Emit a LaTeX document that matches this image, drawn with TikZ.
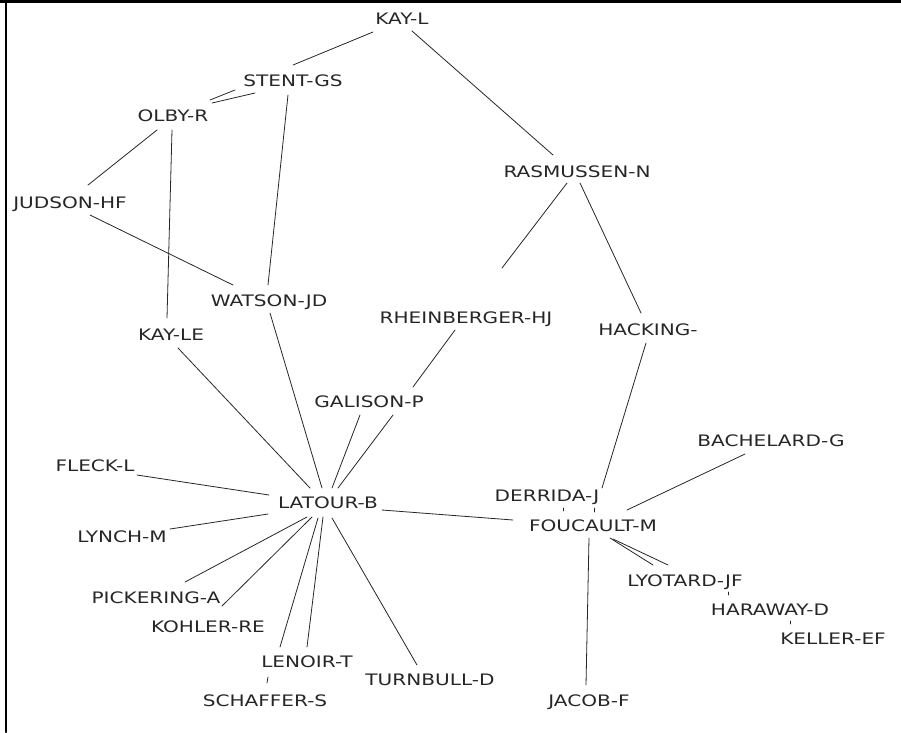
\documentclass[tikz,border=0pt]{standalone}
\usepackage{fontspec}
\setmainfont{DejaVu Sans}[FakeStretch=1.27]
\tikzset{author/.style={text=black!85,font=\fontsize{15.8}{18}\selectfont,
    inner sep=0pt,text height=11.5pt,text depth=0pt},
  tie/.style={line width=0.8pt,black!85}}

\begin{document}
\begin{tikzpicture}[x=1pt,y=-1pt,line cap=round]
  \useasboundingbox (0,0) rectangle (901,732);

  \draw [line width=3pt] (0,1.5) -- (901,1.5);
  \draw [line width=2.4pt] (6.2,0) -- (6.2,732);

  \node[author] (kayl) at (402,19) {KAY-L};
  \node[author] (stent) at (293,81) {STENT-GS};
  \node[author] (olby) at (173,116) {OLBY-R};
  \node[author] (judson) at (70,203) {JUDSON-HF};
  \node[author] (rasmussen) at (577,172) {RASMUSSEN-N};
  \node[author] (watson) at (269,301) {WATSON-JD};
  \node[author] (kayle) at (171,335) {KAY-LE};
  \node[author] (rhein) at (466,318) {RHEINBERGER-HJ};
  \node[author] (hacking) at (648,330) {HACKING-};
  \node[author] (galison) at (369,402) {GALISON-P};
  \node[author] (bachelard) at (771,441) {BACHELARD-G};
  \node[author] (fleck) at (95,466) {FLECK-L};
  \node[author] (latour) at (328,503) {LATOUR-B};
  \node[author] (derrida) at (547,496) {DERRIDA-J};
  \node[author] (foucault) at (593,526) {FOUCAULT-M};
  \node[author] (lynch) at (122,537) {LYNCH-M};
  \node[author] (lyotard) at (685,581) {LYOTARD-JF};
  \node[author] (pickering) at (156,598) {PICKERING-A};
  \node[author] (haraway) at (770,610) {HARAWAY-D};
  \node[author] (kohler) at (208,627) {KOHLER-RE};
  \node[author] (keller) at (833,639) {KELLER-EF};
  \node[author] (lenoir) at (307,662) {LENOIR-T};
  \node[author] (turnbull) at (430,680) {TURNBULL-D};
  \node[author] (schaffer) at (265,701) {SCHAFFER-S};
  \node[author] (jacob) at (589,701) {JACOB-F};

  % upper part
  \draw [tie] ([shift={(-29,13)}]kayl.center) -- ([shift={(0,-16)}]stent.center);
  \draw [tie] ([shift={(10,12)}]kayl.center) -- ([shift={(-24,-17)}]rasmussen.center);
  \draw [tie] ([shift={(39,-13)}]olby.center) -- ([shift={(-38,12)}]stent.center);
  \draw [tie] ([shift={(37,-16)}]olby.center) -- ([shift={(-58,9)}]stent.center);
  \draw [tie] ([shift={(-16,14)}]olby.center) -- ([shift={(18,-18)}]judson.center);
  \draw [tie] ([shift={(-1,14)}]olby.center) -- ([shift={(-4,-17)}]kayle.center);
  \draw [tie] ([shift={(-5,14)}]stent.center) -- ([shift={(-1,-16)}]watson.center);
  \draw [tie] ([shift={(20,12)}]judson.center) -- ([shift={(-36,-16)}]watson.center);
  \draw [tie] ([shift={(-10,11)}]rasmussen.center) -- ([shift={(36,-50)}]rhein.center);
  \draw [tie] ([shift={(3,11)}]rasmussen.center) -- ([shift={(-7,-17)}]hacking.center);
  \draw [tie] ([shift={(-11,12)}]rhein.center) -- ([shift={(44,-15)}]galison.center);
  \draw [tie] ([shift={(-2,13)}]hacking.center) -- ([shift={(55,-8)}]derrida.center);

  % round LATOUR-B
  \draw [tie] ([shift={(-9,13)}]galison.center) -- ([shift={(4,-15)}]latour.center);
  \draw [tie] ([shift={(24,13)}]galison.center) -- ([shift={(10,-15)}]latour.center);
  \draw [tie] ([shift={(1,12)}]watson.center) -- ([shift={(-6,-15)}]latour.center);
  \draw [tie] ([shift={(7,13)}]kayle.center) -- ([shift={(-18,-15)}]latour.center);
  \draw [tie] ([shift={(42,9)}]fleck.center) -- ([shift={(-59,-8)}]latour.center);
  \draw [tie] ([shift={(48,-8)}]lynch.center) -- ([shift={(-60,11)}]latour.center);
  \draw [tie] ([shift={(29,-16)}]pickering.center) -- ([shift={(-21,14)}]latour.center);
  \draw [tie] ([shift={(14,-21)}]kohler.center) -- ([shift={(-16,14)}]latour.center);
  \draw [tie] ([shift={(-27,-15)}]lenoir.center) -- ([shift={(-10,15)}]latour.center);
  \draw [tie] ([shift={(0,-15)}]lenoir.center) -- ([shift={(-5,14)}]latour.center);
  \draw [tie] ([shift={(2,-18)}]schaffer.center) -- ([shift={(-39,15)}]lenoir.center);
  \draw [tie] ([shift={(-13,-15)}]turnbull.center) -- ([shift={(4,15)}]latour.center);
  \draw [tie] ([shift={(54,7)}]latour.center) -- ([shift={(-80,-6)}]foucault.center);

  % round FOUCAULT-M
  \draw [tie] ([shift={(47,12)}]derrida.center) -- ([shift={(1,-14)}]foucault.center);
  \draw [tie] ([shift={(16,12)}]derrida.center) -- ([shift={(-30,-15)}]foucault.center);
  \draw [tie] ([shift={(-26,13)}]bachelard.center) -- ([shift={(34,-16)}]foucault.center);
  \draw [tie] ([shift={(-4,12)}]foucault.center) -- ([shift={(-3,-16)}]jacob.center);
  \draw [tie] ([shift={(17,12)}]foucault.center) -- ([shift={(-32,-16)}]lyotard.center);
  \draw [tie] ([shift={(20,13)}]foucault.center) -- ([shift={(-17,-16)}]lyotard.center);
  \draw [tie] ([shift={(43,11)}]lyotard.center) -- ([shift={(-42,-15)}]haraway.center);
  \draw [tie] ([shift={(20,11)}]haraway.center) -- ([shift={(-43,-15)}]keller.center);

\end{tikzpicture}
\end{document}
